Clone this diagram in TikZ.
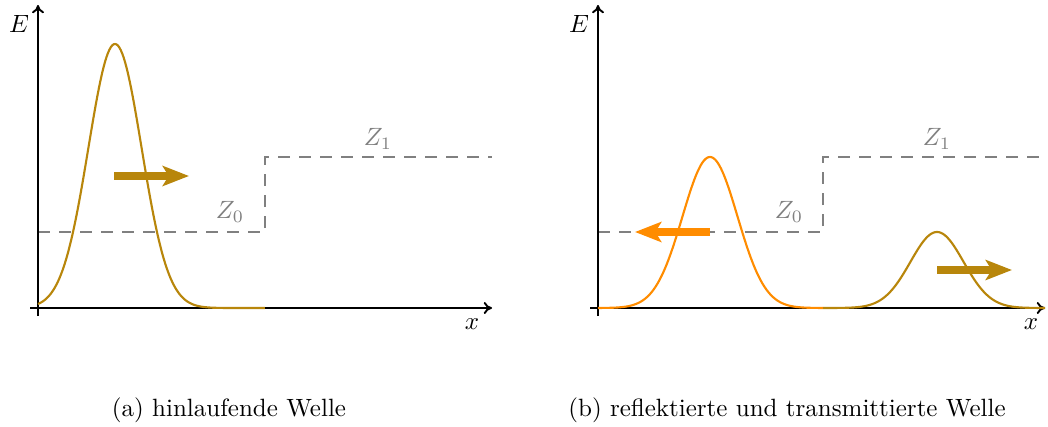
\documentclass[tikz,border=0pt]{standalone}
\usetikzlibrary{arrows.meta}
\definecolor{gold}{RGB}{184,134,11}
\definecolor{dorange}{RGB}{255,140,0}
\begin{document}
\begin{tikzpicture}[x=0.4pt,y=-0.4pt,
  axis/.style={-{To[length=3.3pt,width=4.8pt]}, line width=0.76pt},
  zline/.style={gray, dash pattern=on 4.8pt off 3.6pt, line width=1.05pt},
  wave/.style={line width=0.85pt},
  bigarrow/.style={line width=3.05pt, -{Stealth[length=10.5pt,width=8pt,inset=2.4pt]}},
  zlabel/.style={text=gray},
  caption/.style={font=\normalsize}]
\useasboundingbox (0,0) rectangle (1048,427);
% ---------- panel (a) ----------
\coordinate (za0) at (38,232);
\coordinate (za1) at (265,232);
\coordinate (za2) at (265,157);
\coordinate (za3) at (492,157);
\draw[zline] (za0) -- (za1) -- (za2) -- (za3);
\coordinate (xa0) at (30,308);
\coordinate (xa1) at (492,308);
\coordinate (ya0) at (38,316);
\coordinate (ya1) at (38,5);
\draw[axis] (xa0) -- (xa1);
\draw[axis] (ya0) -- (ya1);
\draw[wave, gold] plot[domain=38:265, samples=160, smooth] (\x, {308-264*exp(-0.5*((\x-115)/26.6)^2)});
\coordinate (aa0) at (114,176);
\coordinate (aa1) at (189,176);
\draw[bigarrow, gold] (aa0) -- (aa1);
\node (Ea) at (19,24) {$E$};
\node (xa) at (472,324) {$x$};
\node[zlabel] (Z0a) at (230,212) {$Z_0$};
\node[zlabel] (Z1a) at (378,139) {$Z_1$};
\node[caption] (capa) at (229,410) {(a) hinlaufende Welle};
% ---------- panel (b) ----------
\coordinate (zb0) at (598,232);
\coordinate (zb1) at (823,232);
\coordinate (zb2) at (823,157);
\coordinate (zb3) at (1048,157);
\draw[zline] (zb0) -- (zb1) -- (zb2) -- (zb3);
\coordinate (xb0) at (590,308);
\coordinate (xb1) at (1045,308);
\coordinate (yb0) at (598,316);
\coordinate (yb1) at (598,5);
\draw[axis] (xb0) -- (xb1);
\draw[axis] (yb0) -- (yb1);
\draw[wave, dorange] plot[domain=598:823, samples=160, smooth] (\x, {308-151*exp(-0.5*((\x-710)/27.5)^2)});
\draw[wave, gold] plot[domain=823:1045, samples=160, smooth] (\x, {308-76*exp(-0.5*((\x-937)/26.6)^2)});
\coordinate (ab0) at (710,232);
\coordinate (ab1) at (635,232);
\draw[bigarrow, dorange] (ab0) -- (ab1);
\coordinate (ac0) at (937,270);
\coordinate (ac1) at (1012,270);
\draw[bigarrow, gold] (ac0) -- (ac1);
\node (Eb) at (579,24) {$E$};
\node (xb) at (1031,324) {$x$};
\node[zlabel] (Z0b) at (789,212) {$Z_0$};
\node[zlabel] (Z1b) at (937,139) {$Z_1$};
\node[caption] (capb) at (787,410) {(b) reflektierte und transmittierte Welle};
\end{tikzpicture}
\end{document}
